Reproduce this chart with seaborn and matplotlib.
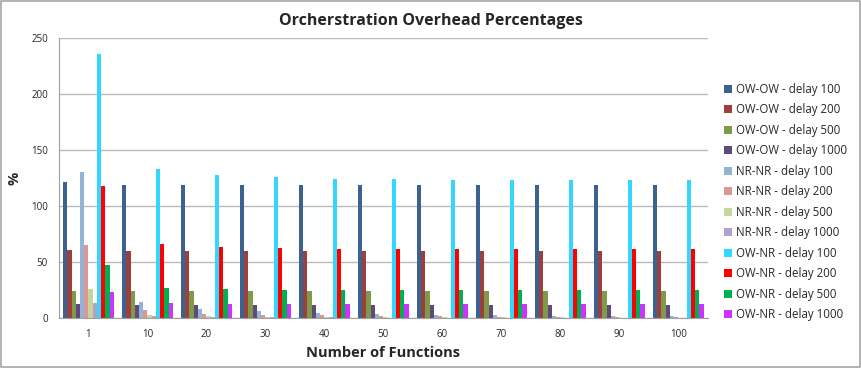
import pandas as pd
import seaborn as sns
import matplotlib.pyplot as plt
from matplotlib.patches import Rectangle

# number of functions (x categories)
functions = ["1", "10", "20", "30", "40", "50", "60", "70", "80", "90", "100"]

# overhead percentages
ow_ow_100 = [121, 119, 119, 119, 119, 119, 119, 119, 119, 119, 119]
ow_ow_200 = [60.5, 59.5, 59.5, 59.5, 59.5, 59.5, 59.5, 59.5, 59.5, 59.5, 59.5]
ow_ow_500 = [24.2, 23.8, 23.8, 23.8, 23.8, 23.8, 23.8, 23.8, 23.8, 23.8, 23.8]
ow_ow_1000 = [12.1, 11.9, 11.9, 11.9, 11.9, 11.9, 11.9, 11.9, 11.9, 11.9, 11.9]
nr_nr_100 = [130, 14.5, 8, 6, 4.5, 3.5, 3, 2.5, 2.2, 2, 1.8]
nr_nr_200 = [65, 7.2, 4, 3, 2.3, 1.8, 1.5, 1.3, 1.1, 1, 0.9]
nr_nr_500 = [26, 2.9, 1.6, 1.2, 0.9, 0.7, 0.6, 0.5, 0.45, 0.4, 0.36]
nr_nr_1000 = [13, 1.5, 0.8, 0.6, 0.45, 0.35, 0.3, 0.25, 0.22, 0.2, 0.18]
ow_nr_100 = [236, 133, 127.5, 125.5, 124.5, 124, 123.5, 123.3, 123.1, 123, 122.8]
ow_nr_200 = [118, 66.5, 63.5, 62.5, 62, 62, 61.8, 61.7, 61.5, 61.5, 61.4]
ow_nr_500 = [47, 26.5, 25.5, 25, 24.9, 24.8, 24.7, 24.7, 24.6, 24.6, 24.6]
ow_nr_1000 = [23.5, 13.2, 12.8, 12.5, 12.4, 12.3, 12.3, 12.3, 12.3, 12.3, 12.3]

series_names = [
    "OW-OW - delay 100", "OW-OW - delay 200", "OW-OW - delay 500", "OW-OW - delay 1000",
    "NR-NR - delay 100", "NR-NR - delay 200", "NR-NR - delay 500", "NR-NR - delay 1000",
    "OW-NR - delay 100", "OW-NR - delay 200", "OW-NR - delay 500", "OW-NR - delay 1000",
]
series_values = [
    ow_ow_100, ow_ow_200, ow_ow_500, ow_ow_1000,
    nr_nr_100, nr_nr_200, nr_nr_500, nr_nr_1000,
    ow_nr_100, ow_nr_200, ow_nr_500, ow_nr_1000,
]
colors = [
    "#3B6392", "#9C403F", "#7F9A48", "#60497B",
    "#95B3D7", "#D99795", "#C3D69B", "#B3A2C7",
    "#33D6FF", "#FF0000", "#00B050", "#CC33FF",
]

# long form table for seaborn
rows = []
for name, vals in zip(series_names, series_values):
    for f, v in zip(functions, vals):
        rows.append({"Functions": f, "Series": name, "Value": v})
df = pd.DataFrame(rows)

sns.set_style("white")
plt.rcParams["font.family"] = ["Open Sans", "DejaVu Sans"]

fig = plt.figure(figsize=(8.62, 3.68), dpi=100)
ax = fig.add_axes([0.0684, 0.1359, 0.7526, 0.7608])

sns.barplot(data=df, x="Functions", y="Value", hue="Series", order=functions,
            hue_order=series_names, palette=colors, width=0.86, gap=0,
            saturation=1, linewidth=0, ax=ax)

ax.set_ylim(0, 250)
ax.set_yticks([0, 50, 100, 150, 200, 250])
ax.yaxis.grid(True, color="#BBBBBB", linewidth=1)
ax.set_axisbelow(True)
for side in ["top", "right"]:
    ax.spines[side].set_visible(False)
for side in ["left", "bottom"]:
    ax.spines[side].set_color("#A0A0A0")
ax.tick_params(axis="both", labelsize=7, length=0, pad=8)

ax.set_xlabel("Number of Functions", fontsize=10.5, fontweight="bold", labelpad=4)
ax.set_ylabel("%", fontsize=10.5, fontweight="bold")
ax.yaxis.set_label_coords(-0.057, 0.5)
fig.suptitle("Orcherstration Overhead Percentages", x=0.5, y=0.965,
             fontsize=11.5, fontweight="bold")

handles, labels = ax.get_legend_handles_labels()
ax.get_legend().remove()
fig.legend(handles, labels, loc="upper left", bbox_to_anchor=(0.834, 0.787),
           frameon=False, fontsize=8.3, handlelength=0.7, handleheight=0.7,
           handletextpad=0.4, labelspacing=0.65, borderaxespad=0)

fig.add_artist(Rectangle((0.001, 0.002), 0.997, 0.995, transform=fig.transFigure,
                         fill=False, edgecolor="#A6A6A6", linewidth=1.2))

fig.savefig("out.png", dpi=100)
